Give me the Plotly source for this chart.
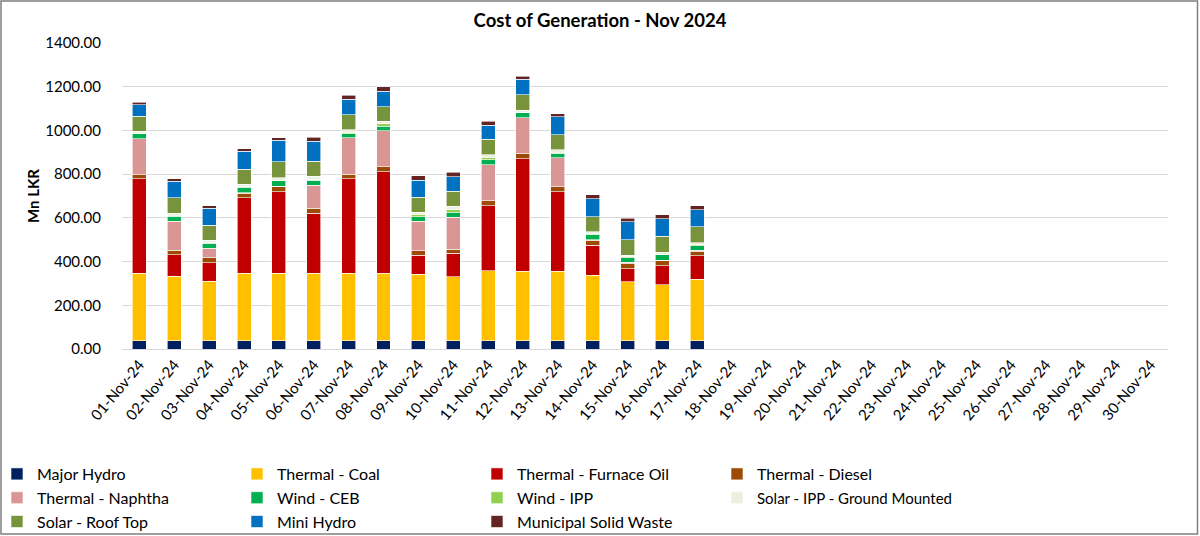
import plotly.graph_objects as go

days = [f"{d:02d}-Nov-24" for d in range(1, 31)]

major_hydro = [38, 38, 38, 38, 38, 38, 38, 38, 38, 38, 38, 38, 38, 38, 38, 38, 38]
thermal_coal = [308, 296, 271, 309, 309, 308, 309, 309, 303, 293, 320, 318, 318, 299, 270, 256, 282]
thermal_fo = [432, 97, 85, 344, 373, 275, 431, 463, 87, 106, 298, 515, 364, 138, 59, 88, 106]
thermal_diesel = [20, 21, 23, 22, 22, 22, 22, 23, 21, 20, 23, 22, 22, 22, 23, 22, 20]
thermal_naphtha = [163, 133, 44, 3, 3, 106, 166, 166, 136, 146, 165, 164, 132, 4, 8, 3, 6]
wind_ceb = [23, 23, 23, 23, 24, 22, 19, 21, 20, 20, 23, 23, 22, 23, 19, 24, 20]
wind_ipp = [3, 3, 3, 3, 3, 4, 4, 11, 10, 14, 10, 3, 4, 3, 4, 3, 4]
solar_ground = [9, 10, 10, 12, 12, 15, 13, 11, 11, 15, 12, 9, 12, 9, 9, 9, 10]
solar_roof = [70, 70, 70, 68, 72, 69, 70, 67, 69, 70, 71, 72, 69, 69, 71, 72, 74]
mini_hydro = [52, 77, 76, 83, 99, 91, 70, 70, 77, 67, 64, 70, 82, 82, 81, 82, 77]
msw = [12, 12, 13, 12, 12, 19, 19, 21, 20, 20, 18, 13, 14, 18, 17, 18, 19]

series = [
    ("Major Hydro", major_hydro, "#002060"),
    ("Thermal - Coal", thermal_coal, "#FFC000"),
    ("Thermal - Furnace Oil", thermal_fo, "#C00000"),
    ("Thermal - Diesel", thermal_diesel, "#9C4A06"),
    ("Thermal - Naphtha", thermal_naphtha, "#DA9694"),
    ("Wind - CEB", wind_ceb, "#00B050"),
    ("Wind - IPP", wind_ipp, "#92D050"),
    ("Solar - IPP - Ground Mounted", solar_ground, "#EBF1DE"),
    ("Solar - Roof Top", solar_roof, "#77933C"),
    ("Mini Hydro", mini_hydro, "#0070C0"),
    ("Municipal Solid Waste", msw, "#632523"),
]

FONT = "Lato, Liberation Sans, sans-serif"
L, R, T, B = 122, 32, 43, 187
PW, PH = 1200 - L - R, 536 - T - B

fig = go.Figure()
for name, vals, color in series:
    label = name
    if len(name) > 24:
        label = f"<span style='font-size:15px'>{name}</span>"
    fig.add_trace(go.Bar(
        x=days[:len(vals)], y=vals, name=label,
        hovertemplate=f"{name}<br>%{{x}}: %{{y:.2f}}<extra></extra>",
        marker=dict(color=color, line=dict(color="white", width=0.6)),
    ))

fig.update_layout(
    barmode="stack",
    bargap=0.6,
    width=1200, height=536,
    margin=dict(l=L, r=R, t=T, b=B, autoexpand=False),
    plot_bgcolor="white", paper_bgcolor="white",
    font=dict(family=FONT, size=15, color="black"),
    title=dict(text="<b>Cost of Generation - Nov 2024</b>", x=0.5, xanchor="center",
               y=0.962, yanchor="middle", font=dict(size=18.5, family=FONT)),
    xaxis=dict(categoryorder="array", categoryarray=days, range=[-0.5, 29.5],
               tickangle=-50, showline=True, linecolor="#d9d9d9", ticks="",
               tickfont=dict(size=15), automargin=False),
    yaxis=dict(range=[0, 1400], dtick=200, tickformat=".2f", showgrid=True,
               gridcolor="#d9d9d9", gridwidth=1, zeroline=False,
               ticklabelstandoff=20, automargin=False,
               title=dict(text="<b>Mn LKR</b>", font=dict(size=15), standoff=2),
               tickfont=dict(size=15)),
    legend=dict(orientation="h", x=(-3 - L) / PW, xanchor="left",
                y=(349 - 457) / PH, yanchor="top", bgcolor="rgba(0,0,0,0)",
                entrywidth=195, entrywidthmode="pixels", traceorder="normal",
                font=dict(size=16), itemwidth=30),
    shapes=[dict(type="rect", xref="paper", yref="paper",
                 x0=(1 - L) / PW, x1=(1197.5 - L) / PW,
                 y0=(349 - 534) / PH, y1=(349 - 1) / PH,
                 line=dict(color="#7f7f7f", width=1.5), layer="below")],
)

fig.write_html("out.html", config={"displayModeBar": False},
               post_script="document.body.style.margin='0';")
